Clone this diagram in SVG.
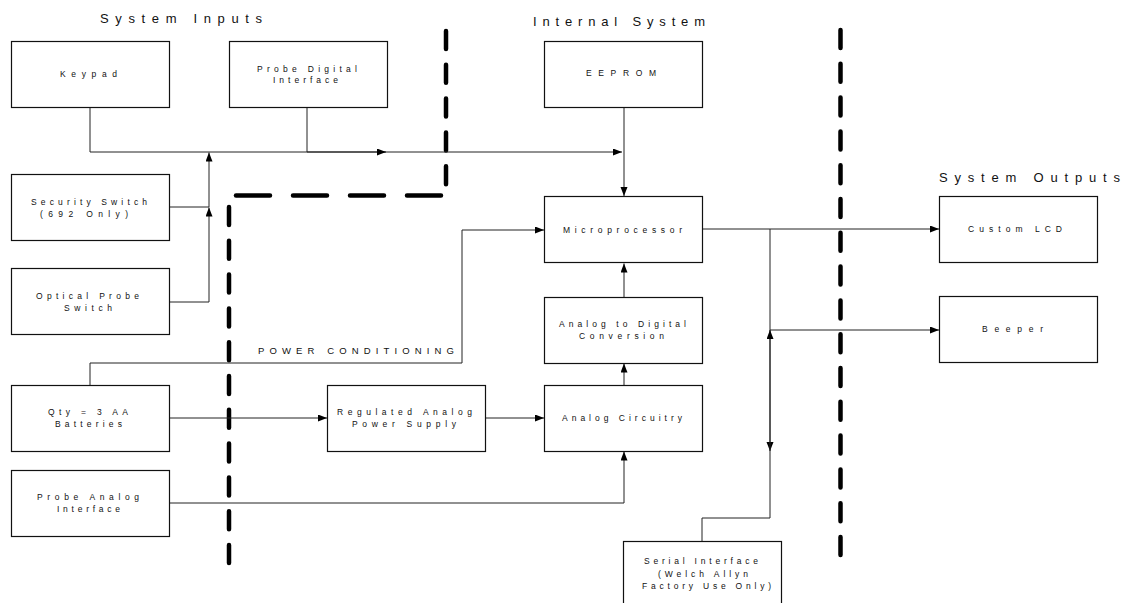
<svg xmlns="http://www.w3.org/2000/svg" width="1130" height="603" viewBox="0 0 1130 603">
<style>
.box{fill:#fff;stroke:#111;stroke-width:1.2}
.t{font-family:"Liberation Sans",Arial,sans-serif;font-size:8.5px;fill:#111}
.pc{font-family:"Liberation Sans",Arial,sans-serif;font-size:9.5px;fill:#111}
.h{font-family:"Liberation Sans",Arial,sans-serif;font-size:13px;fill:#111}
.c{fill:none;stroke:#222;stroke-width:1}
.dv{fill:none;stroke:#000;stroke-width:4.5;stroke-linecap:round;stroke-dasharray:18 15.8}
.dh{fill:none;stroke:#000;stroke-width:4.5;stroke-linecap:round;stroke-dasharray:34 23}
</style>
<defs>
<marker id="a" markerUnits="userSpaceOnUse" markerWidth="10" markerHeight="8" refX="9" refY="3.5" orient="auto">
<path d="M0,0 L9,3.5 L0,7 z" fill="#000"/>
</marker>
</defs>
<rect width="1130" height="603" fill="#fff"/>

<g id="titles">
<text class="h" x="100" y="23" textLength="162" lengthAdjust="spacing">System Inputs</text>
<text class="h" x="533" y="26" textLength="172" lengthAdjust="spacing">Internal System</text>
<text class="h" x="939" y="182" textLength="181" lengthAdjust="spacing">System Outputs</text>
<text class="pc" x="258" y="354" textLength="196" lengthAdjust="spacing">POWER CONDITIONING</text>
</g>

<g id="boundaries">
<path class="dv" d="M446,31 V186"/>
<path class="dh" d="M441,195.5 H234"/>
<path class="dv" d="M229,207 V567"/>
<path class="dv" d="M840.5,30 V561"/>
</g>

<g id="connectors">
<path class="c" d="M90,107 V152 H622" marker-end="url(#a)"/>
<path class="c" d="M307,107 V152 H386" marker-end="url(#a)"/>
<path class="c" d="M169,207 H209 V152.5" marker-end="url(#a)"/>
<path class="c" d="M169,302 H209 V207.5" marker-end="url(#a)"/>
<path class="c" d="M624,107 V196" marker-end="url(#a)"/>
<path class="c" d="M624,297 V263.5" marker-end="url(#a)"/>
<path class="c" d="M624,385 V363.5" marker-end="url(#a)"/>
<path class="c" d="M169,418 H327" marker-end="url(#a)"/>
<path class="c" d="M485,418 H544" marker-end="url(#a)"/>
<path class="c" d="M169,503 H624 V451.5" marker-end="url(#a)"/>
<path class="c" d="M90,385 V363 H462 V230 H544" marker-end="url(#a)"/>
<path class="c" d="M703,229 H939" marker-end="url(#a)"/>
<path class="c" d="M770,229 V451" marker-end="url(#a)"/>
<path class="c" d="M702,541 V518 H770 V330" marker-end="url(#a)"/>
<path class="c" d="M770,330 H939" marker-end="url(#a)"/>
</g>

<g id="keypad">
<rect class="box" x="11.5" y="41.5" width="158" height="66"/>
<text class="t" x="60" y="77" textLength="57" lengthAdjust="spacing">Keypad</text>
</g>
<g id="probe-digital">
<rect class="box" x="229.5" y="41.5" width="158" height="66"/>
<text class="t" x="257" y="72" textLength="100" lengthAdjust="spacing">Probe Digital</text>
<text class="t" x="273" y="83" textLength="65" lengthAdjust="spacing">Interface</text>
</g>
<g id="security-switch">
<rect class="box" x="11.5" y="174.5" width="158" height="66"/>
<text class="t" x="31" y="205" textLength="116" lengthAdjust="spacing">Security Switch</text>
<text class="t" x="40" y="217" textLength="88" lengthAdjust="spacing">(692 Only)</text>
</g>
<g id="optical-probe">
<rect class="box" x="11.5" y="268.5" width="158" height="66"/>
<text class="t" x="36" y="299" textLength="103" lengthAdjust="spacing">Optical Probe</text>
<text class="t" x="64" y="311" textLength="48" lengthAdjust="spacing">Switch</text>
</g>
<g id="batteries">
<rect class="box" x="11.5" y="385.5" width="158" height="66"/>
<text class="t" x="48" y="415" textLength="80" lengthAdjust="spacing">Qty = 3 AA</text>
<text class="t" x="55" y="427" textLength="67" lengthAdjust="spacing">Batteries</text>
</g>
<g id="probe-analog">
<rect class="box" x="11.5" y="470.5" width="158" height="66"/>
<text class="t" x="37" y="500" textLength="102" lengthAdjust="spacing">Probe Analog</text>
<text class="t" x="57" y="512" textLength="63" lengthAdjust="spacing">Interface</text>
</g>
<g id="regulated-supply">
<rect class="box" x="327.5" y="385.5" width="158" height="66"/>
<text class="t" x="337" y="415" textLength="135" lengthAdjust="spacing">Regulated Analog</text>
<text class="t" x="352" y="427" textLength="104" lengthAdjust="spacing">Power Supply</text>
</g>
<g id="eeprom">
<rect class="box" x="544.5" y="41.5" width="158" height="66"/>
<text class="t" x="586" y="76" textLength="70" lengthAdjust="spacing">EEPROM</text>
</g>
<g id="microprocessor">
<rect class="box" x="544.5" y="196.5" width="158" height="66"/>
<text class="t" x="563" y="233" textLength="119" lengthAdjust="spacing">Microprocessor</text>
</g>
<g id="adc">
<rect class="box" x="544.5" y="297.5" width="158" height="66"/>
<text class="t" x="559" y="327" textLength="127" lengthAdjust="spacing">Analog to Digital</text>
<text class="t" x="579" y="339" textLength="85" lengthAdjust="spacing">Conversion</text>
</g>
<g id="analog-circuitry">
<rect class="box" x="544.5" y="385.5" width="158" height="66"/>
<text class="t" x="562" y="421" textLength="120" lengthAdjust="spacing">Analog Circuitry</text>
</g>
<g id="serial-interface">
<rect class="box" x="623.5" y="541.5" width="158" height="70"/>
<text class="t" x="644" y="564" textLength="114" lengthAdjust="spacing">Serial Interface</text>
<text class="t" x="658" y="577" textLength="90" lengthAdjust="spacing">(Welch Allyn</text>
<text class="t" x="642" y="589" textLength="129" lengthAdjust="spacing">Factory Use Only)</text>
</g>
<g id="custom-lcd">
<rect class="box" x="939.5" y="196.5" width="158" height="66"/>
<text class="t" x="968" y="232" textLength="94" lengthAdjust="spacing">Custom LCD</text>
</g>
<g id="beeper">
<rect class="box" x="939.5" y="296.5" width="158" height="66"/>
<text class="t" x="982" y="332" textLength="61" lengthAdjust="spacing">Beeper</text>
</g>
</svg>
